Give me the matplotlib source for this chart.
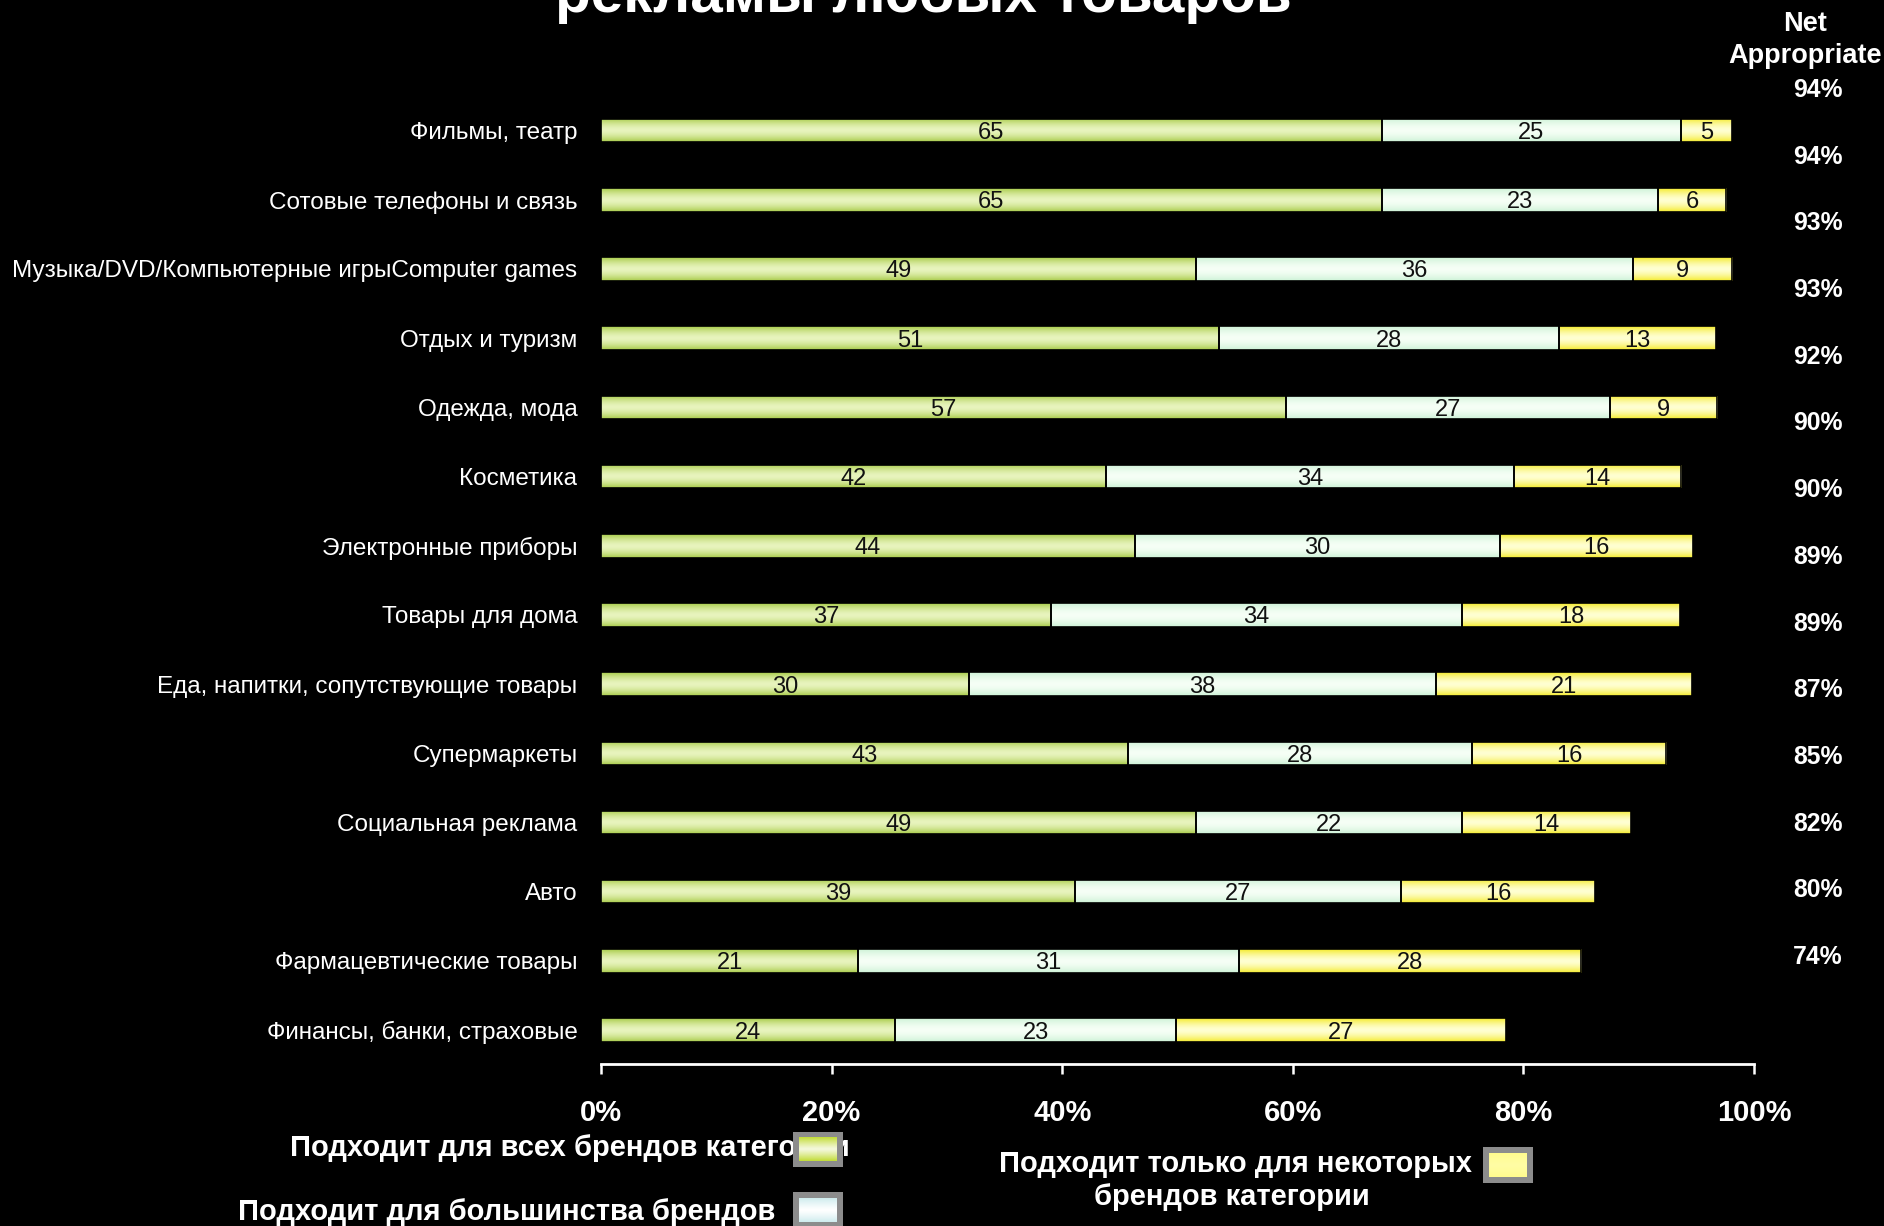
import numpy as np
import matplotlib.pyplot as plt
from matplotlib.colors import to_rgb

plt.rcParams["font.family"] = ["Liberation Sans", "DejaVu Sans"]

# categories, top to bottom
categories = [
    "Фильмы, театр",
    "Сотовые телефоны и связь",
    "Музыка/DVD/Компьютерные игрыComputer games",
    "Отдых и туризм",
    "Одежда, мода",
    "Косметика",
    "Электронные приборы",
    "Товары для дома",
    "Еда, напитки, сопутствующие товары",
    "Супермаркеты",
    "Социальная реклама",
    "Авто",
    "Фармацевтические товары",
    "Финансы, банки, страховые",
]

# bar segment lengths as drawn in the picture (% of axis)
len_all = [67.7, 67.7, 51.6, 53.6, 59.4, 43.8, 46.3, 39.0, 31.9, 45.7, 51.6, 41.1, 22.3, 25.5]
len_most = [26.0, 24.0, 37.9, 29.5, 28.1, 35.4, 31.7, 35.7, 40.5, 29.8, 23.1, 28.3, 33.0, 24.4]
len_some = [4.4, 5.9, 8.6, 13.6, 9.3, 14.5, 16.7, 18.9, 22.2, 16.9, 14.6, 16.8, 29.7, 28.6]

# numbers printed on the bars
lbl_all = [65, 65, 49, 51, 57, 42, 44, 37, 30, 43, 49, 39, 21, 24]
lbl_most = [25, 23, 36, 28, 27, 34, 30, 34, 38, 28, 22, 27, 31, 23]
lbl_some = [5, 6, 9, 13, 9, 14, 16, 18, 21, 16, 14, 16, 28, 27]

net_appropriate = ["94%", "94%", "93%", "93%", "92%", "90%", "90%",
                   "89%", "89%", "87%", "85%", "82%", "80%", "74%"]

xticks = [0, 20, 40, 60, 80, 100]
xtick_labels = ["0%", "20%", "40%", "60%", "80%", "100%"]

legend_all = "Подходит для всех брендов категории"
legend_most = "Подходит для большинства брендов"
legend_some = "Подходит только для некоторых\nбрендов категории"

W, H = 1884, 1226


def gradient(edge, mid, power=1.6, n=64):
    t = np.linspace(-1, 1, n)
    k = (1 - np.abs(t) ** power)[:, None, None]
    return np.array(to_rgb(edge)) * (1 - k) + np.array(to_rgb(mid)) * k


def tube(ax, patch, edge, mid):
    x, y = patch.get_x(), patch.get_y()
    w, h = patch.get_width(), patch.get_height()
    im = ax.imshow(gradient(edge, mid), extent=(x, x + w, y + h, y),
                   aspect="auto", zorder=2, interpolation="bilinear")
    im.set_clip_path(patch)


fig = plt.figure(figsize=(W / 100, H / 100), dpi=100, facecolor="black")
ax = fig.add_axes([601 / W, 1 - 1064 / H, (1754 - 601) / W, (1064 - 96) / H])
ax.set_facecolor("black")

y = np.arange(len(categories))
h = 0.34
styles = [
    (len_all, lbl_all, "#a8cb48", "#e8f4be"),
    (len_most, lbl_most, "#cdf2d6", "#f6fff6"),
    (len_some, lbl_some, "#f4ea2a", "#ffffd2"),
]
left = np.zeros(len(categories))
for lens, lbls, edge, mid in styles:
    bars = ax.barh(y, lens, left=left, height=h, color=edge, zorder=1)
    for p in bars:
        tube(ax, p, edge, mid)
    ax.barh(y, lens, left=left, height=h, fill=False, edgecolor="black",
            linewidth=1.2, zorder=3)
    for i, (l0, w, v) in enumerate(zip(left, lens, lbls)):
        ax.text(l0 + w / 2, i + 0.035, str(v), ha="center", va="center",
                fontsize=17, color="#111111", zorder=4)
    left = left + np.array(lens)

ax.set_xlim(0, 100)
ax.set_ylim(len(categories) - 1 + 0.49, -0.5)

ax.set_xticks(xticks)
ax.set_xticklabels(xtick_labels, fontsize=21, fontweight="bold", color="white")
ax.tick_params(axis="x", direction="out", length=7, width=1.8, color="white", pad=18)
ax.set_yticks(y)
ax.set_yticklabels(categories, fontsize=17.5, color="white")
ax.tick_params(axis="y", length=0, pad=17)
for s in ["top", "right", "left"]:
    ax.spines[s].set_visible(False)
ax.spines["bottom"].set_color("white")
ax.spines["bottom"].set_linewidth(2)

# Net Appropriate column (its own spacing, not aligned to the bars)
for i, v in enumerate(net_appropriate):
    fig.text(1818 / W, 1 - (90 + 66.7 * i) / H, v, ha="center", va="center",
             fontsize=17.8, fontweight="bold", color="white")
fig.text(1805 / W, 1 - 24 / H, "Net", ha="center", va="center",
         fontsize=19.5, fontweight="bold", color="white")
fig.text(1805 / W, 1 - 56 / H, "Appropriate", ha="center", va="center",
         fontsize=19.5, fontweight="bold", color="white")

# title, mostly above the visible area
fig.text(923 / W, 1 - 12 / H, "рекламы любых товаров", ha="center",
         va="baseline", fontsize=42, fontweight="bold", color="white")

# legend
fig.text(850 / W, 1 - 1148 / H, legend_all, ha="right", va="center",
         fontsize=21, fontweight="bold", color="white")
fig.text(775 / W, 1 - 1212 / H, legend_most, ha="right", va="center",
         fontsize=21, fontweight="bold", color="white")
line1, line2 = legend_some.split("\n")
fig.text(1472 / W, 1 - 1164 / H, line1, ha="right", va="center",
         fontsize=21, fontweight="bold", color="white")
fig.text(1232 / W, 1 - 1197 / H, line2, ha="center", va="center",
         fontsize=21, fontweight="bold", color="white")


def legend_box(x0, y0, x1, y1, edge, mid, power):
    sq = fig.add_axes([x0 / W, 1 - y1 / H, (x1 - x0) / W, (y1 - y0) / H])
    sq.set_zorder(10)
    sq.set_facecolor("#8c8c8c")
    sq.imshow(gradient(edge, mid, power), extent=(0.12, 0.88, 0.17, 0.83),
              aspect="auto", interpolation="bilinear")
    sq.set_xlim(0, 1)
    sq.set_ylim(0, 1)
    sq.set_xticks([])
    sq.set_yticks([])
    for s in sq.spines.values():
        s.set_visible(False)


legend_box(793, 1132, 843, 1167, "#c2dc38", "#f4f8dc", 1.2)
legend_box(793, 1192, 843, 1228, "#cfecee", "#ffffff", 1.2)
legend_box(1483, 1147, 1533, 1183, "#fffb8e", "#fffda4", 1.2)

fig.savefig("out.png", dpi=100, facecolor="black")
